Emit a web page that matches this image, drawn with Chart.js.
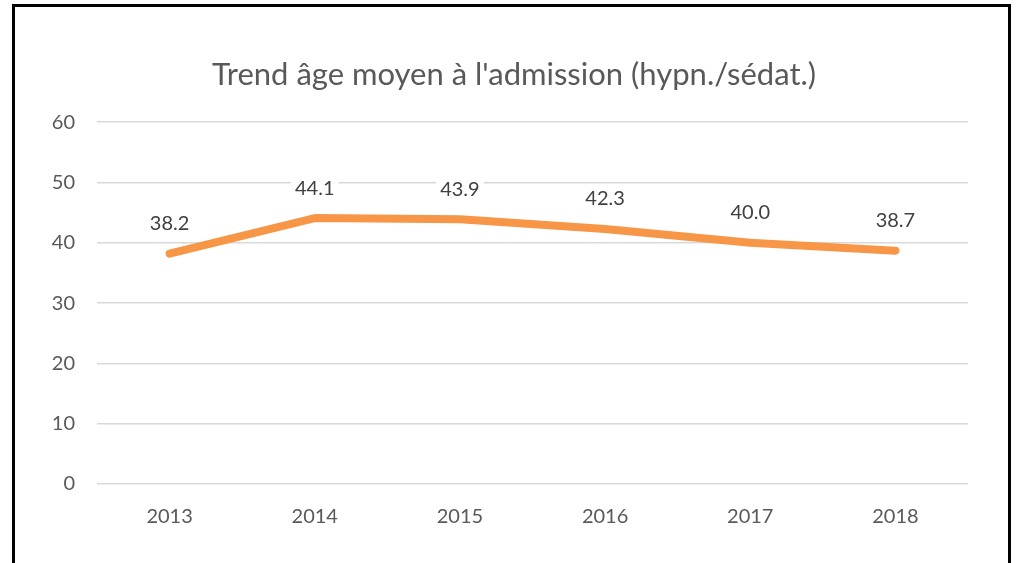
<!DOCTYPE html>
<html>
<head>
<meta charset="utf-8">
<script src="https://cdn.jsdelivr.net/npm/chart.js@4"></script>
<style>
  body { margin: 0; background: #fff; }
  #frame { position: absolute; left: 12px; top: 4px; width: 993px; height: 570px;
           border-top: 3px solid #000; border-left: 3px solid #000; border-right: 3px solid #000; }
  canvas { position: absolute; left: 0; top: 0; }
</style>
</head>
<body>
<canvas id="myChart" width="1018" height="563"></canvas>
<div id="frame"></div>
<script>
var years = ["2013", "2014", "2015", "2016", "2017", "2018"]
var ageMoyen = [38.2, 44.1, 43.9, 42.3, 40.0, 38.7]
var yTicks = [0, 10, 20, 30, 40, 50, 60]

// labels au-dessus des points, fond blanc
var valueLabels = {
  id: "valueLabels",
  afterDatasetsDraw(chart) {
    var ctx = chart.ctx
    var meta = chart.getDatasetMeta(0)
    ctx.save()
    ctx.font = "20px Lato"
    ctx.textAlign = "center"
    ctx.textBaseline = "middle"
    meta.data.forEach(function (pt, i) {
      var txt = ageMoyen[i].toFixed(1)
      var w = ctx.measureText(txt).width
      var y = pt.y - 30
      ctx.fillStyle = "#fff"
      ctx.fillRect(pt.x - w / 2 - 4, y - 12, w + 8, 24)
      ctx.fillStyle = "#404040"
      ctx.fillText(txt, pt.x, y)
    })
    ctx.restore()
  }
}

new Chart("myChart", {
  type: "line",
  data: {
    labels: years,
    datasets: [{
      data: ageMoyen,
      borderColor: "#F79646",
      borderWidth: 8,
      borderCapStyle: "round",
      borderJoinStyle: "round",
      pointRadius: 0,
      tension: 0
    }]
  },
  options: {
    responsive: false,
    animation: false,
    layout: { padding: { left: 10, right: 0, top: 0, bottom: 0 } },
    plugins: {
      legend: { display: false },
      tooltip: { enabled: false },
      title: {
        display: true,
        text: "Trend âge moyen à l'admission (hypn./sédat.)",
        color: "#595959",
        font: { family: "Lato", size: 31, weight: "normal" },
        padding: { top: 56, bottom: 29 }
      }
    },
    scales: {
      x: {
        offset: true,
        grid: { display: false },
        border: { display: false },
        ticks: { color: "#595959", font: { family: "Lato", size: 20 }, padding: 13 },
        afterFit: function (s) { s.height = 79 }
      },
      y: {
        min: 0,
        max: 60,
        afterBuildTicks: function (s) { s.ticks = yTicks.map(function (v) { return { value: v } }) },
        grid: { color: "#d9d9d9", lineWidth: 1.5, drawTicks: false },
        border: { display: false },
        ticks: { color: "#595959", font: { family: "Lato", size: 20 }, padding: 22 },
        afterFit: function (s) { s.width = 87 }
      },
      y2: {
        position: "right",
        grid: { display: false },
        border: { display: false },
        ticks: { display: false },
        afterFit: function (s) { s.width = 50 }
      }
    }
  },
  plugins: [valueLabels]
})
</script>
</body>
</html>
